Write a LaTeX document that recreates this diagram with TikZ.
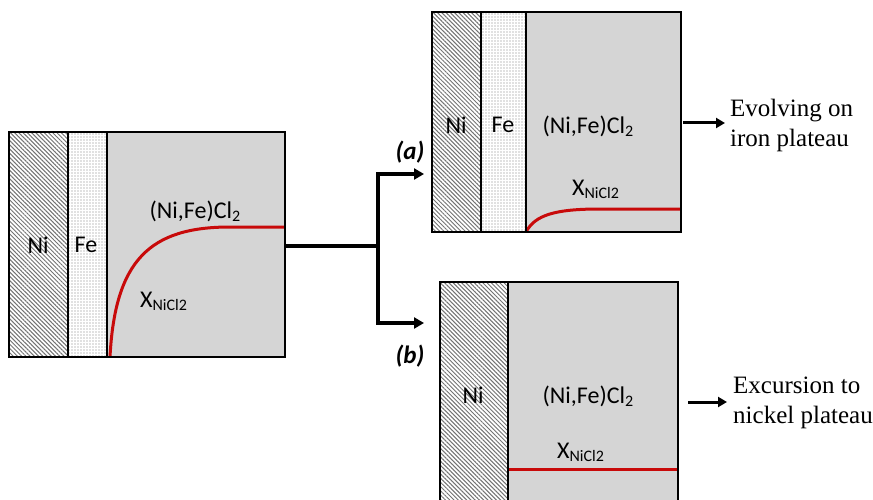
\documentclass[tikz,border=0pt]{standalone}
\usepackage{fontspec}
\setmainfont{Liberation Serif}
\newfontfamily\carlitofont{Carlito}
\usetikzlibrary{patterns.meta,arrows.meta}
\definecolor{chl}{RGB}{213,213,213}
\definecolor{curve}{RGB}{200,10,10}
\tikzset{
  nihatch/.style={pattern={Lines[angle=-45,distance=3pt,line width=1pt]},pattern color=black!55},
  fedots/.style={pattern={Dots[distance=3pt,radius=0.6pt]},pattern color=black!50},
  boxline/.style={draw=black,line width=1.7pt},
  lab/.style={font=\carlitofont\fontsize{24}{26}\selectfont,inner sep=0pt},
  xlab/.style={font=\carlitofont\fontsize{24}{26}\selectfont,inner sep=0pt,anchor=base west},
  redc/.style={draw=curve,line width=3pt},
  flow/.style={line width=3.3pt,-{Triangle[length=10pt,width=11pt]}},
  outarr/.style={line width=3pt,-{Triangle[length=9pt,width=10pt]}},
  outtxt/.style={font=\fontsize{25}{30}\selectfont,align=left,anchor=west,inner sep=0pt},
  tag/.style={font=\carlitofont\bfseries\itshape\fontsize{25}{26}\selectfont,inner sep=0pt}
}
\newcommand{\xnicl}{X\raisebox{-0.3ex}{\fontsize{16}{16}\selectfont NiCl2}}
\newcommand{\subtwo}{\raisebox{-0.3ex}{\fontsize{16}{16}\selectfont 2}}
\begin{document}
\begin{tikzpicture}[x=1pt,y=-1pt]
\useasboundingbox (0,0) rectangle (873,500);
\clip (0,0) rectangle (873,500);
% ---------- left box ----------
\fill[white] (9,132) rectangle (68,357);
\fill[nihatch] (9,132) rectangle (68,357);
\fill[white] (68,132) rectangle (107,357);
\fill[fedots] (68,132) rectangle (107,357);
\fill[chl] (107,132) rectangle (285,357);
\draw[redc] (110,357) .. controls (115,260) and (150,227) .. (230,227) -- (285,227);
\draw[boxline] (9,132) rectangle (285,357);
\draw[boxline] (68,132) -- (68,357);
\draw[boxline] (107,132) -- (107,357);
\coordinate (Lout) at (286,246);
\node[lab] (lni) at (38,245) {Ni};
\node[lab] (lfe) at (86,245) {Fe};
\node[lab] (lcl) at (195,211) {(Ni,Fe)Cl\subtwo};
\node[xlab] (lx) at (140,307) {\xnicl};
% ---------- box (a) ----------
\fill[white] (432,12) rectangle (481,232);
\fill[nihatch] (432,12) rectangle (481,232);
\fill[white] (481,12) rectangle (526,232);
\fill[fedots] (481,12) rectangle (526,232);
\fill[chl] (526,12) rectangle (681,232);
\draw[redc] (526,232) .. controls (535,215) and (555,209) .. (600,209) -- (681,209);
\draw[boxline] (432,12) rectangle (681,232);
\draw[boxline] (481,12) -- (481,232);
\draw[boxline] (526,12) -- (526,232);
\node[lab] (ani) at (456,125) {Ni};
\node[lab] (afe) at (503,125) {Fe};
\node[lab] (acl) at (588,126) {(Ni,Fe)Cl\subtwo};
\node[xlab] (ax) at (572,195) {\xnicl};
\coordinate (aIn) at (424,174);
\coordinate (aOut) at (683,123);
\coordinate (aOutE) at (725,123);
% ---------- box (b) ----------
\fill[white] (440,282) rectangle (508,520);
\fill[nihatch] (440,282) rectangle (508,520);
\fill[chl] (508,282) rectangle (678,520);
\draw[redc] (508,469) -- (678,469);
\draw[boxline] (440,282) rectangle (678,520);
\draw[boxline] (508,282) -- (508,520);
\node[lab] (bni) at (473,395) {Ni};
\node[lab] (bcl) at (588,396) {(Ni,Fe)Cl\subtwo};
\node[xlab] (bx) at (557,458) {\xnicl};
\coordinate (bIn) at (424,323);
\coordinate (bOut) at (688,402);
\coordinate (bOutE) at (727,402);
% ---------- connectors ----------
\coordinate (fork) at (378,246);
\draw[line width=3.3pt] (Lout) -- (fork);
\draw[flow] (fork) |- (aIn);
\draw[flow] (fork) |- (bIn);
\node[tag] (ta) at (410,152) {(a)};
\node[tag] (tb) at (410,356) {(b)};
\draw[outarr] (aOut) -- (aOutE);
\draw[outarr] (bOut) -- (bOutE);
\node[outtxt] (atxt) at (730,125) {Evolving on\\iron plateau};
\node[outtxt] (btxt) at (733,403) {Excursion to\\nickel plateau};
\end{tikzpicture}
\end{document}
